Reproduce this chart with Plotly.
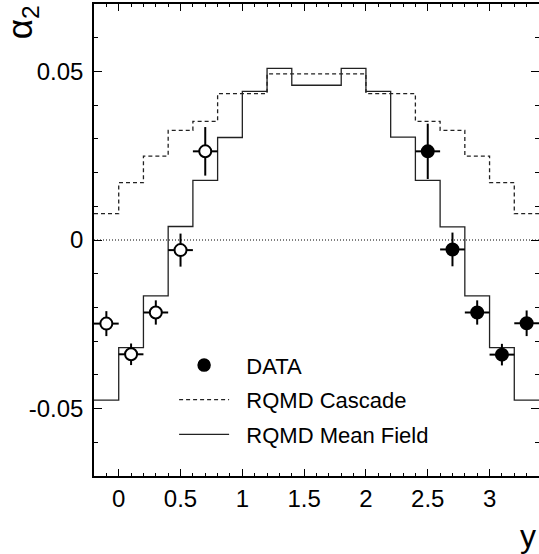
import numpy as np
import plotly.graph_objects as go

# Bin centres (rapidity y), bin width 0.2
bin_centers = [-0.1, 0.1, 0.3, 0.5, 0.7, 0.9, 1.1, 1.3, 1.5, 1.7, 1.9, 2.1, 2.3, 2.5, 2.7, 2.9, 3.1, 3.3]
bin_width = 0.2

rqmd_mean_field = [-0.0475, -0.0319, -0.0166, 0.0040, 0.0177, 0.0304, 0.0441, 0.0509, 0.0459,
                   0.0459, 0.0509, 0.0441, 0.0305, 0.0177, 0.0039, -0.0166, -0.0319, -0.0475]
rqmd_cascade = [0.0078, 0.0170, 0.0249, 0.0325, 0.0352, 0.0434, 0.0434, 0.0493, 0.0493,
                0.0493, 0.0493, 0.0434, 0.0434, 0.0352, 0.0325, 0.0249, 0.0170, 0.0078]

# Measured data (filled) and reflected points (open)
data_y = [2.5, 2.7, 2.9, 3.1, 3.3]
data_a2 = [0.0263, -0.0028, -0.0215, -0.0340, -0.0247]
data_err = [0.0082, 0.0050, 0.0036, 0.0032, 0.0038]
refl_y = [0.7, 0.5, 0.3, 0.1, -0.1]
refl_a2 = [0.0263, -0.0030, -0.0215, -0.0339, -0.0248]
refl_err = [0.0072, 0.0049, 0.0036, 0.0032, 0.0037]
x_err = 0.1

x_ticks = [0, 0.5, 1, 1.5, 2, 2.5, 3]
x_ticklabels = ["0", "0.5", "1", "1.5", "2", "2.5", "3"]
y_ticks = [-0.05, 0, 0.05]
y_ticklabels = ["-0.05", "0", "0.05"]

centers = np.array(bin_centers)
edges = np.append(centers - bin_width / 2, centers[-1] + bin_width / 2)


def step_vals(v):
    return list(v) + [v[-1]]


FONT = "Liberation Sans, Arial, Helvetica, sans-serif"
PAD = "\u00a0\u00a0"
fig = go.Figure()

fig.add_trace(go.Scatter(
    x=[None], y=[None], mode="markers", name=PAD + "DATA", legendgroup="a",
    marker=dict(symbol="circle", size=12, color="black", line=dict(color="black", width=1.5)),
))
fig.add_trace(go.Scatter(
    x=edges, y=step_vals(rqmd_cascade), mode="lines", line_shape="hv", name=PAD + "RQMD Cascade",
    legendgroup="b",
    line=dict(color="#222222", width=1.3, dash="4px,3px"),
))
fig.add_trace(go.Scatter(
    x=edges, y=step_vals(rqmd_mean_field), mode="lines", line_shape="hv", name=PAD + "RQMD Mean Field",
    legendgroup="c",
    line=dict(color="#222222", width=1.3),
))
fig.add_trace(go.Scatter(
    x=refl_y, y=refl_a2, mode="markers", showlegend=False,
    marker=dict(symbol="circle", size=12, color="white", line=dict(color="black", width=2)),
    error_y=dict(type="data", array=refl_err, width=0, thickness=2, color="black"),
    error_x=dict(type="constant", value=x_err, width=0, thickness=2, color="black"),
))
fig.add_trace(go.Scatter(
    x=data_y, y=data_a2, mode="markers", showlegend=False,
    marker=dict(symbol="circle", size=12, color="black", line=dict(color="black", width=2)),
    error_y=dict(type="data", array=data_err, width=0, thickness=2, color="black"),
    error_x=dict(type="constant", value=x_err, width=0, thickness=2, color="black"),
))
# invisible helper subplot carrying the rotated alpha_2 axis title at the top-left
fig.add_trace(go.Scatter(x=[None], y=[None], xaxis="x2", yaxis="y2", showlegend=False,
                         hoverinfo="skip"))

fig.add_shape(type="line", xref="x", yref="y", x0=-0.2, x1=3.4, y0=0, y1=0,
              line=dict(color="black", width=1, dash="1px,2px"), layer="below")

axis_common = dict(
    showgrid=False, zeroline=False, showline=True, linecolor="black", linewidth=1.5,
    mirror="ticks", ticks="inside", tickcolor="black", tickwidth=1,
    tickfont=dict(family=FONT, size=24, color="black"),
)
fig.update_layout(
    xaxis=dict(range=[-0.2, 3.4], tickvals=x_ticks, ticktext=x_ticklabels, ticklen=7,
               minor=dict(dtick=0.1, ticks="inside", ticklen=3.5, tickcolor="black", tickwidth=1),
               ticklabelstandoff=0, **axis_common),
    yaxis=dict(range=[-0.07, 0.07], tickvals=y_ticks, ticktext=y_ticklabels, ticklen=8,
               minor=dict(dtick=0.01, ticks="inside", ticklen=4, tickcolor="black", tickwidth=1),
               ticklabelstandoff=4, **axis_common),
    xaxis2=dict(domain=[0, 1], anchor="y2", visible=False, range=[0, 1]),
    yaxis2=dict(domain=[0.922, 1.0], anchor="x2", range=[0, 1], showline=False, showgrid=False,
                zeroline=False, showticklabels=False, ticks="",
                title=dict(text="α<sub>2</sub>", standoff=52,
                           font=dict(family=FONT, size=35, color="black"))),
)

fig.add_annotation(text="y", xref="paper", yref="paper", x=0.975, y=-0.128,
                   xanchor="center", yanchor="middle", showarrow=False,
                   font=dict(family=FONT, size=32, color="black"))

fig.update_layout(
    width=541, height=554,
    margin=dict(l=94, r=0, t=4, b=78),
    paper_bgcolor="white", plot_bgcolor="rgba(0,0,0,0)",
    showlegend=True,
    legend=dict(x=0.18, y=0.279, xanchor="left", yanchor="top", bgcolor="rgba(0,0,0,0)",
                font=dict(family=FONT, size=22, color="black"), itemwidth=50,
                tracegroupgap=3),
)

fig.write_html("out.html", config={"displayModeBar": False},
               post_script="document.body.style.margin='0';document.body.style.overflow='hidden';"
                           "document.documentElement.style.overflow='hidden';")
